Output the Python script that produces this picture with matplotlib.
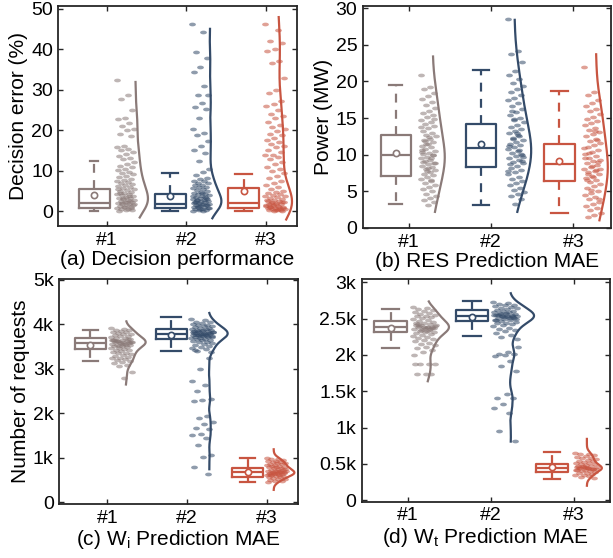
import numpy as np
import matplotlib
matplotlib.use("Agg")
import matplotlib.pyplot as plt

plt.rcParams['font.family'] = ['Liberation Sans', 'DejaVu Sans']
plt.rcParams['mathtext.fontset'] = 'custom'
plt.rcParams['mathtext.rm'] = 'Liberation Sans'

colors = ['#8a7a78', '#344b69', '#c85541']
xlabels_cat = ['#1', '#2', '#3']

# ---- (a) decision error (%) ----
a1 = [32.3, 28.6, 27.6, 24.9, 23.1, 22.8, 21.8, 21.0, 20.4, 20.0, 19.2, 18.7, 16.2, 15.8,
      15.5, 15.1, 14.7, 14.2, 13.6, 13.2, 12.8, 12.2, 11.7, 11.3,
      10.9, 10.5, 10.2, 9.8, 9.5, 9.1, 8.8, 8.4, 8.1, 7.8, 7.5, 7.3, 7.0, 6.8, 6.5, 6.3,
      6.0, 5.8, 5.5, 5.3, 5.1, 4.8, 4.6, 4.4, 4.2, 4.0, 3.8, 3.6, 3.4, 3.2, 3.0, 2.9,
      2.7, 2.5, 2.4, 2.2, 2.1, 1.9, 1.8, 1.6, 1.5, 1.3, 1.2, 1.0, 0.9, 0.7, 0.6, 0.4,
      0.3, 0.1, 2.6, 3.3, 1.7, 2.3, 4.5, 0.8, 1.1, 5.6, 3.9, 2.0]
a2 = [46.3, 44.2, 39.3, 37.8, 35.6, 34.4, 30.9, 28.8, 28.6, 26.7, 25.8, 25.2, 23.1, 20.4,
      19.4, 18.8, 17.4, 16.1, 15.2, 14.3, 12.3, 10.4, 9.6, 8.9,
      8.2, 7.9, 7.6, 7.4, 7.1, 6.9, 6.6, 6.4, 6.1, 5.9, 5.7, 5.4, 5.2, 5.0, 4.8, 4.6,
      4.4, 4.2, 4.0, 3.8, 3.6, 3.4, 3.3, 3.1, 2.9, 2.8, 2.6, 2.5, 2.3, 2.2, 2.0, 1.9,
      1.8, 1.6, 1.5, 1.4, 1.2, 1.1, 1.0, 0.8, 0.7, 0.6, 0.4, 0.3, 0.2, 0.1, 2.7, 3.0,
      1.7, 2.1, 3.5, 1.3, 0.9, 4.5, 2.4, 1.6, 0.5, 3.7]
a3 = [46.3, 44.7, 41.9, 41.6, 40.0, 39.5, 37.1, 36.5, 33.0, 30.0, 29.3, 27.2, 26.4, 25.9,
      24.9, 24.1, 23.5, 22.9, 22.1, 21.4, 20.8, 20.4, 19.8, 19.2, 18.8, 18.1, 17.6, 17.0,
      16.7, 16.2, 15.8, 15.1, 14.6, 14.0, 13.9, 13.4, 12.8, 12.2, 11.6, 11.0, 10.5, 9.9,
      9.4, 8.8, 8.2, 7.6, 7.1, 6.5, 6.0,
      5.4, 5.1, 4.8, 4.5, 4.2, 4.0, 3.7, 3.5, 3.3, 3.1, 2.9, 2.7, 2.5, 2.3, 2.2, 2.0,
      1.9, 1.7, 1.6, 1.4, 1.3, 1.2, 1.0, 0.9, 0.8, 0.7, 0.6, 0.5, 0.4, 0.3, 0.2, 0.1,
      1.5, 1.1, 2.1, 0.95, 1.8, 2.6, 0.45, 1.25, 3.8, 0.65, 1.05, 2.4, 0.35]
a_med = [2.1, 1.8, 2.1]
a_q1 = [0.74, 0.74, 0.74]
a_q3 = [5.5, 4.4, 5.7]
a_mean = [4.1, 3.8, 5.1]
a_lo = [0.0, 0.0, 0.0]
a_hi = [12.4, 9.4, 9.1]
a_curve = [(-1.5, 31.9), (-1.7, 45.0), (-2.0, 47.9)]

# ---- (b) RES prediction MAE (MW) ----
b1 = [20.9, 19.3, 18.9, 18.4, 18.0, 17.6, 17.2, 16.8, 16.4, 16.0, 15.7, 15.4, 15.1, 14.8,
      14.5, 14.2, 13.9, 13.6, 13.3, 13.0, 12.7, 12.5, 12.2, 12.0, 11.7, 11.5, 11.2, 11.0,
      10.8, 10.5, 10.3, 10.1, 9.9, 9.7, 9.5, 9.3, 9.1, 8.9, 8.7, 8.5, 8.3, 8.1, 7.9, 7.6,
      7.4, 7.2, 6.9, 6.7, 6.4, 6.1, 5.9, 5.6, 5.3, 5.0, 4.7, 4.4, 4.1, 3.8, 3.5, 3.2,
      10.6, 9.6, 11.4, 8.8, 12.4, 9.0, 10.0, 7.8, 13.8, 6.5, 11.9, 14.9, 8.2, 10.4]
b2 = [28.5, 24.1, 23.8, 22.6, 21.4, 20.9, 20.3, 19.8, 19.4, 19.0, 18.6, 18.2, 17.8, 17.4,
      17.0, 16.6, 16.2, 15.8, 15.4, 15.0, 14.7, 14.4, 14.1, 13.8, 13.5, 13.2, 12.9, 12.6,
      12.3, 12.0, 11.8, 11.5, 11.3, 11.0, 10.8, 10.5, 10.3, 10.0, 9.8, 9.5, 9.3, 9.0,
      8.8, 8.5, 8.2, 7.9, 7.6, 7.3, 7.0, 6.7, 6.4, 6.1, 5.8, 5.5, 5.2, 4.9, 4.6, 4.3,
      4.0, 3.3, 11.2, 10.7, 12.2, 9.7, 13.0, 8.7, 10.1, 14.9, 7.8, 12.7, 16.0, 9.1]
b3 = [21.9, 18.6, 18.2, 17.5, 17.1, 16.7, 16.3, 15.9, 15.5, 15.2, 14.9, 14.6, 14.3, 14.0,
      13.7, 13.4, 13.1, 12.8, 12.5, 12.2, 11.9, 11.6, 11.3, 11.0, 10.7, 10.4, 10.1, 9.8,
      9.6, 9.3, 9.1, 8.8, 8.6, 8.3, 8.1, 7.8, 7.6, 7.3, 7.1, 6.8, 6.5, 6.3, 6.0, 5.7,
      5.4, 5.1, 4.8, 4.5, 4.2, 3.9, 3.6, 3.3, 3.0, 2.7, 2.4, 2.1, 1.8, 1.5,
      9.0, 8.5, 9.5, 7.9, 10.2, 8.0, 7.0, 6.6, 12.0, 5.2, 10.9, 13.2, 7.4, 4.0]
b_med = [9.9, 10.9, 8.7]
b_q1 = [7.1, 8.3, 6.4]
b_q3 = [12.7, 14.2, 11.4]
b_mean = [10.2, 11.4, 9.2]
b_lo = [3.3, 3.2, 2.1]
b_hi = [19.5, 21.6, 18.7]
b_curve = [(2.2, 23.4), (2.2, 28.4), (1.05, 23.7)]

# ---- (c) Wi prediction MAE (requests) ----
c1 = [3905, 3892, 3878, 3861, 3847, 3833, 3818, 3802, 3787, 3771, 3756, 3742, 3727, 3711,
      3697, 3682, 3668, 3651, 3642, 3631, 3622, 3611, 3601, 3592, 3581, 3572, 3561, 3552,
      3541, 3532, 3516, 3502, 3486, 3471, 3457, 3441, 3426, 3411, 3396, 3382, 3366, 3351,
      3332, 3311, 3292, 3271, 3251, 3232, 3211, 3192, 3171, 3152, 3121, 3092, 3061, 2930,
      2800, 3625, 3605, 3585, 3655, 3545, 3615, 3595, 3565, 3637, 3675, 3505]
c2 = [4110, 4085, 4060, 4040, 4020, 4005, 3990, 3975, 3962, 3950, 3938, 3925, 3912, 3900,
      3890, 3880, 3870, 3860, 3850, 3840, 3830, 3820, 3810, 3800, 3790, 3780, 3770, 3760,
      3750, 3740, 3730, 3720, 3710, 3700, 3690, 3680, 3668, 3655, 3640, 3625, 3610, 3592,
      3575, 3555, 3535, 3512, 3490, 3465, 3440, 3410, 3385, 3775, 3795, 3815, 3755, 3835,
      3785, 3765, 3805, 3745, 3825, 3735, 3855, 3715, 3875,
      3432, 3246, 3006, 2723, 2626, 2499, 2313, 2298, 2275, 1939, 1902, 1805, 1754, 1679,
      1641, 1529, 1507, 1455, 1283, 1059, 1030, 806, 634]
c3 = [1000, 985, 968, 952, 938, 925, 912, 900, 888, 876, 865, 855, 845, 835, 825, 815,
      805, 795, 785, 775, 765, 755, 745, 735, 725, 715, 705, 695, 685, 675, 665, 655,
      645, 635, 625, 615, 605, 595, 585, 575, 563, 550, 537, 523, 508, 492, 475, 458,
      690, 670, 650, 710, 630, 680, 660, 700, 640, 620]
c_med = [3582, 3783, 685]
c_q1 = [3454, 3678, 573]
c_q3 = [3694, 3902, 783]
c_mean = [3544, 3752, 685]
c_lo = [3170, 3394, 448]
c_hi = [3880, 4155, 1007]
c_curve = [(2648, 4065), (745, 4253), (282, 1193)]

# ---- (d) Wt prediction MAE (requests) ----
d1 = [2655, 2640, 2625, 2612, 2600, 2588, 2576, 2564, 2552, 2540, 2528, 2516, 2504, 2492,
      2480, 2468, 2456, 2444, 2432, 2420, 2410, 2400, 2390, 2380, 2370, 2360, 2350, 2340,
      2330, 2320, 2308, 2296, 2284, 2272, 2258, 2244, 2230, 2215, 2200, 2184, 2168, 2150,
      2132, 2112, 2090, 2065, 2035, 2005, 2385, 2395, 2375, 2365, 2405, 2355,
      2345, 2415, 2335, 2425, 2390, 2380,
      1873, 1873, 1873, 1870, 1737, 1737, 1740]
d2 = [2725, 2712, 2700, 2690, 2680, 2670, 2660, 2650, 2640, 2630, 2620, 2610, 2600, 2592,
      2584, 2576, 2568, 2560, 2552, 2544, 2536, 2528, 2520, 2512, 2504, 2496, 2486, 2476,
      2466, 2456, 2444, 2432, 2420, 2406, 2392, 2376, 2360, 2342, 2322, 2300, 2275, 2248,
      2220, 2535, 2545, 2525, 2515, 2555, 2505, 2565, 2495, 2575, 2485, 2530, 2540,
      2110, 2045, 2009, 2009, 2005, 1990, 1909, 1841, 1773, 1456, 1411, 1411, 1320,
      1265, 1206, 957, 812]
d3 = [655, 642, 630, 618, 606, 595, 585, 575, 565, 555, 546, 537, 528, 519, 510, 502,
      494, 486, 478, 470, 462, 454, 446, 438, 430, 422, 414, 406, 398, 390, 381, 372,
      363, 354, 344, 333, 321, 308, 445, 455, 435, 465, 425, 440, 450, 430, 460, 420]
d_med = [2385, 2535, 445]
d_q1 = [2313, 2467, 390]
d_q3 = [2467, 2612, 503]
d_mean = [2372, 2521, 458]
d_lo = [2099, 2258, 299]
d_hi = [2635, 2739, 662]
d_curve = [(1637, 2735), (807, 2848), (200, 844)]

# layout: axes rect, box offset/width/capwidth, scatter span, curve base/width
panels = [
    dict(rect=[0.0954, 0.595, 0.3886, 0.394], data=[a1, a2, a3],
         stats=(a_med, a_q1, a_q3, a_mean, a_lo, a_hi), curve=a_curve,
         ylim=(-3.6, 50.6), yticks=[0, 10, 20, 30, 40, 50], ytl=None,
         xlim=(0.395, 3.385), ylabel='Decision error (%)',
         title='(a) Decision performance',
         box_off=[-0.157, -0.20, -0.28], box_w=0.39, cap_w=[0.1, 0.2, 0.21],
         sc=[(0.125, 0.35), (0.075, 0.29), (-0.01, 0.24)],
         base=[0.355, 0.29, 0.15], kw=[0.163, 0.15, 0.176]),
    dict(rect=[0.592, 0.5914, 0.405, 0.398], data=[b1, b2, b3],
         stats=(b_med, b_q1, b_q3, b_mean, b_lo, b_hi), curve=b_curve,
         ylim=(0, 30.3), yticks=[0, 5, 10, 15, 20, 25, 30], ytl=None,
         xlim=(0.44, 3.46), ylabel='Power (MW)',
         title='(b) RES Prediction MAE',
         box_off=[-0.159, -0.122, -0.17], box_w=0.37, cap_w=[0.16, 0.2, 0.2],
         sc=[(0.143, 0.33), (0.2, 0.4), (0.13, 0.334)],
         base=[0.29, 0.277, 0.273], kw=[0.146, 0.21, 0.146]),
    dict(rect=[0.0967, 0.0968, 0.389, 0.4027], data=[c1, c2, c3],
         stats=(c_med, c_q1, c_q3, c_mean, c_lo, c_hi), curve=c_curve,
         ylim=(-35, 5010), yticks=[0, 1000, 2000, 3000, 4000, 5000],
         ytl=['0', '1k', '2k', '3k', '4k', '5k'],
         xlim=(0.395, 3.39), ylabel='Number of requests',
         title=r'(c) W$_{\rm i}$ Prediction MAE',
         box_off=[-0.213, -0.2, -0.238], box_w=0.39, cap_w=[0.19, 0.25, 0.19],
         sc=[(0.04, 0.31), (0.05, 0.33), (0.0, 0.24)],
         base=[0.23, 0.27, 0.088], kw=[0.25, 0.24, 0.26]),
    dict(rect=[0.590, 0.1009, 0.405, 0.3986], data=[d1, d2, d3],
         stats=(d_med, d_q1, d_q3, d_mean, d_lo, d_hi), curve=d_curve,
         ylim=(-20, 3040), yticks=[0, 500, 1000, 1500, 2000, 2500, 3000],
         ytl=['0', '0.5k', '1k', '1.5k', '2k', '2.5k', '3k'],
         xlim=(0.447, 3.43), ylabel=None,
         title=r'(d) W$_{\rm t}$ Prediction MAE',
         box_off=[-0.204, -0.228, -0.264], box_w=0.39, cap_w=[0.21, 0.22, 0.2],
         sc=[(0.06, 0.34), (0.024, 0.325), (0.012, 0.276)],
         base=[0.228, 0.228, 0.153], kw=[0.268, 0.29, 0.18]),
]

t = np.linspace(0, 2 * np.pi, 24)
ell = list(zip(np.cos(t), 0.55 * np.sin(t)))


def kde(vals, grid):
    x = np.asarray(vals, float)
    sig = np.median(np.abs(x - np.median(x))) / 0.6745
    bw = sig * (4 / (3 * len(x))) ** 0.2
    d = np.exp(-0.5 * ((grid[:, None] - x[None, :]) / bw) ** 2).sum(1)
    return d / d.max()


fig = plt.figure(figsize=(6.13, 5.58), dpi=100)

for p in panels:
    ax = fig.add_axes(p['rect'])
    med, q1, q3, mn, lo, hi = p['stats']
    for i in range(3):
        col = colors[i]
        pos = i + 1
        vals = np.asarray(p['data'][i], float)
        # box
        st = dict(med=med[i], q1=q1[i], q3=q3[i], mean=mn[i], whislo=lo[i], whishi=hi[i])
        ax.bxp([st], positions=[pos + p['box_off'][i]], widths=p['box_w'],
               capwidths=p['cap_w'][i], showmeans=True, showfliers=False,
               manage_ticks=False,
               boxprops=dict(color=col, lw=1.6),
               whiskerprops=dict(color=col, lw=1.6, linestyle=(0, (4.0, 3.3))),
               capprops=dict(color=col, lw=1.6),
               medianprops=dict(color=col, lw=1.6),
               meanprops=dict(marker='o', markersize=4.5, markerfacecolor='white',
                              markeredgecolor=col, markeredgewidth=1.2))
        # jittered points
        lo_x, hi_x = p['sc'][i]
        frac = (np.arange(len(vals)) * 0.6180339887) % 1.0
        xs = pos + lo_x + (hi_x - lo_x) * frac
        ax.scatter(xs, vals, s=24, marker=ell, color=col, alpha=0.55,
                   linewidths=0, zorder=3)
        # half density curve
        c_lo, c_hi = p['curve'][i]
        grid = np.linspace(c_lo, c_hi, 300)
        dens = kde(vals, grid)
        ax.plot(pos + p['base'][i] + p['kw'][i] * dens, grid, color=col, lw=1.6, zorder=4)

    ax.set_xlim(*p['xlim'])
    ax.set_ylim(*p['ylim'])
    ax.set_xticks([1, 2, 3])
    ax.set_xticklabels(xlabels_cat)
    ax.set_yticks(p['yticks'])
    if p['ytl'] is not None:
        ax.set_yticklabels(p['ytl'])
    ax.tick_params(direction='in', length=3.5, width=1.0, labelsize=14, pad=4,
                   top=True, right=True, color='#262626')
    for s in ax.spines.values():
        s.set_linewidth(1.3)
        s.set_color('#262626')
    if p['ylabel']:
        ax.set_ylabel(p['ylabel'], fontsize=15, labelpad=2)
    ax.set_xlabel(p['title'], fontsize=15, labelpad=1)

fig.savefig('out.png', dpi=100)
